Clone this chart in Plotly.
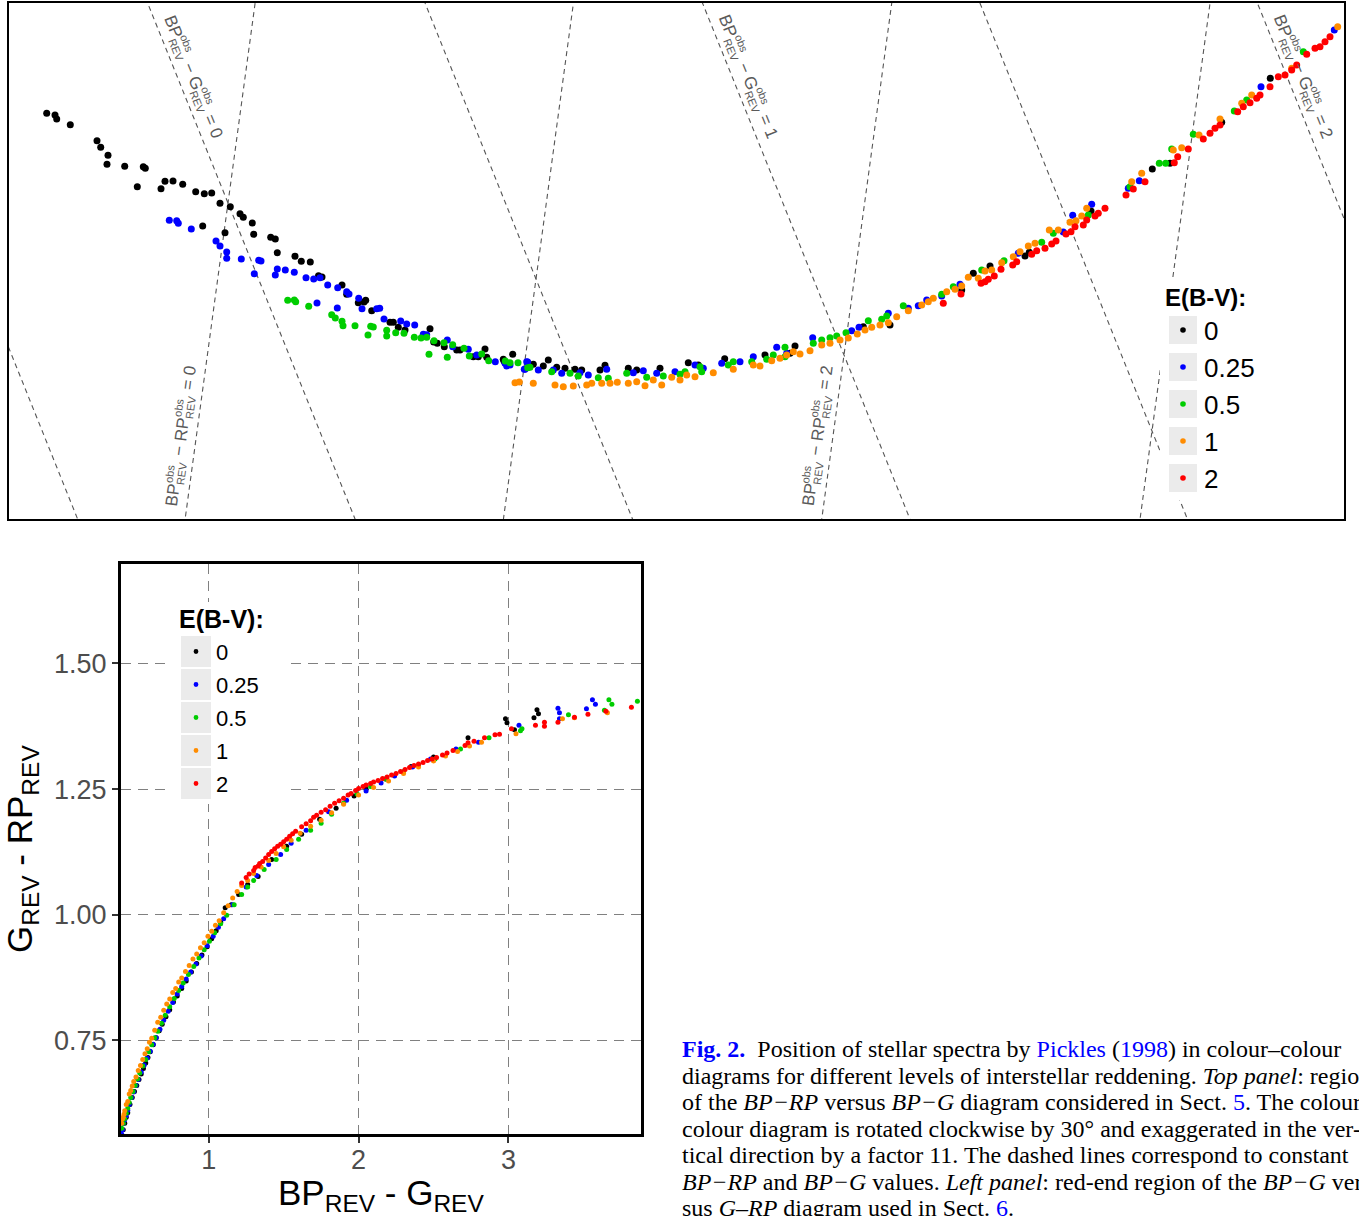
import math
import plotly.graph_objects as go

W, H = 1359, 1216

# ---------------- categories / colours ----------------
EBV_LABELS = ["0", "0.25", "0.5", "1", "2"]
EBV_COLORS = ["#000000", "#0000FF", "#00CD00", "#FF8C00", "#FF0000"]

# ---------------- top panel: rotated (30 deg) and stretched (x11) BP-RP vs BP-G diagram ----------------
# values are (along-locus, across-locus) coordinates in the rotated frame
TOP_E0 = [(46.7,113.3),(55,115),(56.7,119),(70.3,124.7),(97,140.7),(100.7,147.3),(108,155.3),(107,164.3),
          (124.7,166.3),(143.3,166.7),(145.3,168.3),(137.3,186.7),(161,188.7),(165,181.3),(173,181),(182.7,184.3),
          (195.7,191.7),(204.3,193.7),(211.7,193),(220,203.3),(230.3,206.7),(240,213.7),(243.3,217.3),(252.3,223),
          (253.7,234.3),(202.7,226),(225,232.7),(270.7,237.3),(275.3,239),(277.3,252.7),(295,256.3),(301.3,261.3),
          (310.3,262),(318.5,275.7),(322,277),(342,285),(346.7,294.3),(358.3,302.7),(364,302),(365.7,300.3),
          (371.7,310.7),(390,322.3),(393.3,322.3),(398.3,327.3),(405,330),(430,328.7),(433.7,342),(437.3,343.3),
          (444.3,346.7),(456.7,350),(460,350),(473.3,356.7),(478.3,356.7),(485,349),(486.7,357.3),(512.7,354.3),
          (504,361),(503.3,359.3),(533.3,364.3),(543.3,366),(548.3,360),(556.7,367.3),(565,368.3),(575,369.3),
          (581.7,370),(600,370),(605,365.3),(628.3,368.3),(636.7,370),(660,368.3),(688.3,362.7),(698.3,365),
          (724.7,358.7),(765,355),(790,353.3),(795,346),(863.3,326.7),(890,325),(961.7,290),(973.3,273.3),
          (990,266),(1025,256),(1029.3,252.3),(1091,211),(1152.3,169),(1170,163.3),(1221.7,122.3),(1270.3,78.3)]
TOP_E025 = [(169.3,220.3),(176.7,220.7),(178.3,223.3),(191.3,229),(216,241),(220,246),(226.7,252),(226.7,258.3),
            (241.3,259),(258.7,260.3),(261,261),(254.3,273.7),(277.3,269),(275.3,275),(285.3,270),(294.3,272.3),
            (306,277.7),(313.7,279),(320,277.7),(327.7,285),(317,303),(337.7,287.7),(346.7,291.7),(349,294),
            (358.7,298.3),(362,308.7),(337.3,308),(376.7,308.7),(379.7,308.3),(384,319),(400.7,321),(406.7,324),
            (414.7,325),(423.3,334.3),(426.7,334.7),(447.3,340),(452.7,346.7),(468.3,349.3),(476.7,355),
            (495.3,361.7),(506.7,366),(510,365),(524.3,369.3),(527.7,362),(505,363.3),(526.7,361.7),(525,369.3),
            (538.3,370),(553.3,370),(561.7,373.3),(580,372.7),(588.3,375),(606.7,369.3),(633.3,372.7),(643.3,370.7),
            (656.7,373.3),(675,371.7),(695,365),(703.3,368.3),(721.7,363.3),(740,361.7),(753.3,356.7),(776.7,347.3),
            (786.7,353.3),(812.7,337.7),(851.7,330.7),(859,327.3),(888.3,313.3),(908.3,308.3),(918.3,305.7),
            (926.7,300),(941.7,296),(960,284.3),(1018.3,253.3),(1063.3,232),(1072.7,215.3),(1091.7,204.3),
            (1128.3,188.3),(1139.3,180.7),(1261,86.7),(1334.3,30)]
TOP_E05 = [(287.7,300.3),(294.3,300),(295.7,301.7),(308.7,306.3),(331.7,314.7),(335.3,318),(342,321.3),(343,325.7),
           (355,325.7),(370.7,326.3),(373.3,327),(368,335),(386.7,330.3),(386.7,336),(395.7,332.7),(404,333.3),
           (414.3,337.3),(421,338),(426.7,337.3),(434,340.7),(444,342.7),(452.7,344.7),(464,348.3),(469.3,356),
           (481.7,354),(488.7,360.7),(429,354.3),(447.3,357.3),(505.3,361),(510,362.7),(518,362.7),(527.7,367.7),
           (530,367.3),(551.7,371.7),(570,373.3),(578.3,376),(598.3,377.7),(608.3,378.3),(626.7,373.3),(646.7,377.3),
           (663.3,376),(680,374.3),(685,371.7),(700,366.7),(701.7,371.7),(728.3,365),(733.3,361.7),(751.7,361.7),
           (766.7,359.3),(773.3,355),(785,347.3),(785,356.7),(813.3,343.3),(821.7,340),(830,337.7),(836.7,336),
           (846,332.7),(868.3,320.7),(881.7,319.3),(886.7,316),(903.3,305.7),(941.7,294.3),(953.3,286.7),
           (981.7,270),(1004,260.7),(1041.7,242.3),(1053.3,233.3),(1088.3,215),(1130,186.7),(1159.3,163.3),
           (1165.7,163.3),(1171.7,149),(1193.3,134.3),(1234.3,111),(1246.7,100),(1303.3,51.7)]
TOP_E1 = [(515,382.7),(519.3,382),(533.3,383.3),(555,385),(563.3,386.7),(573.3,386),(586.7,385),(591.7,383.3),
          (601.7,383.3),(610,383.3),(617.3,382.3),(628.3,383.3),(636.7,381.7),(645,385.7),(653.3,380),(661.7,385),
          (671.7,377.3),(680,380),(686.7,375),(695,376.7),(713.3,372.7),(733.3,369.3),(753.3,365),(760,366),
          (771.7,360.7),(780,358.3),(786.7,355),(793.3,351.7),(800,354),(810,350.7),(821.7,345),(830,343.3),
          (840,340),(848.3,338),(857.3,334),(865,330),(871.7,327.3),(880,325),(888.3,322.7),(896.7,316.7),
          (908.3,310.7),(921.7,305),(928.3,301.7),(933.3,298.3),(946.7,291.7),(955,289.3),(961.7,286),(968.3,277.3),
          (978.3,278.3),(985,271),(991.7,270),(1001.7,262.7),(1013.3,256.7),(1020,251.7),(1028.3,246),(1035,243.3),
          (1049.3,230),(1058.3,230),(1070,222.3),(1076,220.7),(1081.7,216),(1086.7,208.3),(1131.7,181.7),
          (1141.7,173.3),(1173.3,150),(1181.7,147.7),(1199,135),(1220,119),(1241.7,103.3),(1251.7,95),
          (1291.7,68.3),(1337.7,26.7)]
TOP_E2 = [(943.3,303.3),(961,294),(981,283.3),(985,281.7),(988.3,279.3),(994.3,276),(1001,269.3),(1012.7,265),
          (1016.7,261.7),(1031.7,254.3),(1036.7,250.7),(1045,248.3),(1051.7,244),(1056,241),(1066,234),(1071,231.7),
          (1075,226.7),(1083.3,225),(1086.7,220),(1095,216),(1098.3,213.3),(1105,208.3),(1126,195),(1133.3,189),
          (1145,181.7),(1174.3,162.7),(1177.7,156.7),(1188.3,149),(1203.3,139),(1210,133.3),(1215,128.3),(1220,125),
          (1237.7,111.7),(1243.3,106.7),(1250,102.7),(1256.7,98.3),(1260,95),(1270,86.7),(1278.3,76.7),(1285,75),
          (1291.7,70),(1296.7,65),(1306.7,54.3),(1315,48.3),(1320,46.7),(1325,41.7),(1330,36.7)]
TOP_SERIES = [TOP_E0, TOP_E025, TOP_E05, TOP_E1, TOP_E2]

# rotated frame: position of (BP-G, BP-RP) = ORIGIN + g*VEC_G + r*VEC_R
ORIGIN = (228.0, 203.0)
VEC_G = (140.0, -1032.0)
VEC_R = (238.0, 592.0)
ISO_BPG = [-0.5, 0.0, 0.5, 1.0, 1.5, 2.0]
ISO_BPRP = [0.0, 1.0, 2.0, 3.0]
LABEL_BPG = [0, 1, 2]
LABEL_BPRP = [0, 2]

# ---------------- left panel: BP-G (x) vs G-RP (y) ----------------
LEFT_E0 = [(0.43,0.572),(0.44,0.585),(0.45,0.597),(0.46,0.606),(0.475,0.622),(0.49,0.636),(0.505,0.648),(0.52,0.660),
           (0.535,0.672),(0.55,0.683),(0.565,0.694),(0.58,0.705),(0.595,0.716),(0.61,0.727),(0.63,0.741),(0.65,0.755),
           (0.67,0.769),(0.69,0.782),(0.715,0.797),(0.74,0.811),(0.765,0.826),(0.79,0.838),(0.82,0.853),(0.85,0.868),
           (0.885,0.886),(0.92,0.903),(0.955,0.920),(0.99,0.936),(1.02,0.952),(1.05,0.968),(1.08,0.985),(1.11,1.014),
           (1.15,1.020),(1.20,1.040),(1.26,1.060),(1.33,1.076),(1.42,1.110),(1.52,1.136),(1.62,1.160),(1.74,1.190),
           (1.85,1.212),(1.97,1.236),(2.05,1.250),(2.18,1.270),(2.35,1.295),(2.50,1.314),(2.73,1.352),(2.98,1.390),
           (2.99,1.382),(3.04,1.368),(3.17,1.392),(3.19,1.408),(3.20,1.400)]
LEFT_E025 = [(0.42,0.563),(0.425,0.572),(0.43,0.585),(0.44,0.592),(0.45,0.600),(0.46,0.611),(0.47,0.622),(0.485,0.636),
             (0.50,0.647),(0.515,0.660),(0.53,0.672),(0.55,0.687),(0.57,0.701),(0.59,0.715),(0.61,0.728),(0.63,0.742),
             (0.65,0.755),(0.675,0.772),(0.70,0.790),(0.73,0.808),(0.76,0.825),(0.79,0.842),(0.82,0.857),(0.85,0.872),
             (0.88,0.886),(0.915,0.902),(0.95,0.918),(0.99,0.938),(1.03,0.957),(1.065,0.975),(1.10,0.992),(1.16,1.020),
             (1.25,1.055),(1.32,1.078),(1.40,1.100),(1.48,1.120),(1.55,1.142),(1.65,1.168),(1.80,1.205),(1.92,1.228),
             (2.05,1.246),(2.15,1.262),(2.24,1.276),(2.36,1.294),(2.48,1.310),(2.65,1.330),(2.80,1.343),(3.07,1.377),
             (3.33,1.411),(3.34,1.402),(3.34,1.390),(3.52,1.410),(3.56,1.428),(3.58,1.419)]
LEFT_E05 = [(0.42,0.575),(0.43,0.585),(0.44,0.594),(0.45,0.605),(0.46,0.615),(0.47,0.626),(0.48,0.636),(0.495,0.648),
            (0.51,0.660),(0.525,0.673),(0.54,0.685),(0.56,0.699),(0.58,0.712),(0.60,0.727),(0.62,0.741),(0.64,0.755),
            (0.66,0.768),(0.685,0.784),(0.71,0.800),(0.74,0.817),(0.77,0.833),(0.80,0.849),(0.83,0.864),(0.865,0.881),
            (0.90,0.897),(0.935,0.914),(0.97,0.930),(1.005,0.947),(1.04,0.964),(1.08,0.982),(1.12,0.999),(1.17,1.020),
            (1.22,1.040),(1.26,1.055),(1.30,1.068),(1.37,1.090),(1.45,1.110),(1.52,1.130),(1.60,1.150),(1.68,1.168),
            (1.75,1.182),(1.82,1.200),(1.90,1.222),(1.99,1.240),(2.08,1.255),(2.18,1.270),(2.30,1.285),(2.40,1.298),
            (2.51,1.310),(2.68,1.330),(2.87,1.352),(3.08,1.366),(3.09,1.370),(3.40,1.398),(3.64,1.407),(3.67,1.428),
            (3.69,1.419),(3.86,1.425)]
LEFT_E1 = [(0.42,0.585),(0.425,0.594),(0.43,0.597),(0.435,0.603),(0.44,0.610),(0.45,0.622),(0.46,0.628),(0.47,0.643),
           (0.48,0.650),(0.49,0.659),(0.50,0.668),(0.515,0.677),(0.53,0.690),(0.545,0.700),(0.56,0.712),(0.575,0.723),
           (0.59,0.733),(0.605,0.746),(0.62,0.754),(0.64,0.770),(0.66,0.786),(0.68,0.796),(0.70,0.810),(0.72,0.822),
           (0.74,0.832),(0.76,0.845),(0.78,0.853),(0.80,0.866),(0.82,0.874),(0.845,0.887),(0.87,0.899),(0.895,0.912),
           (0.92,0.922),(0.945,0.934),(0.97,0.944),(0.995,0.957),(1.02,0.967),(1.045,0.979),(1.07,0.988),(1.10,1.004),
           (1.13,1.018),(1.16,1.033),(1.19,1.046),(1.22,1.058),(1.26,1.068),(1.30,1.082),(1.35,1.095),(1.40,1.108),
           (1.45,1.122),(1.50,1.135),(1.55,1.148),(1.61,1.162),(1.68,1.176),(1.75,1.188),(1.82,1.203),(1.90,1.220),
           (2.00,1.238),(2.10,1.253),(2.20,1.266),(2.30,1.281),(2.40,1.294),(2.50,1.306),(2.58,1.316),(2.66,1.325),
           (2.74,1.336),(2.82,1.343),(3.05,1.360),(3.36,1.390),(3.44,1.392),(3.66,1.402)]
LEFT_E2 = [(1.22,1.063),(1.25,1.074),(1.27,1.081),(1.30,1.088),(1.31,1.094),(1.33,1.097),(1.34,1.102),(1.36,1.106),
           (1.38,1.113),(1.40,1.120),(1.42,1.126),(1.44,1.131),(1.46,1.136),(1.48,1.140),(1.50,1.145),(1.52,1.150),
           (1.54,1.156),(1.56,1.161),(1.58,1.166),(1.62,1.175),(1.65,1.181),(1.68,1.187),(1.70,1.194),(1.72,1.198),
           (1.75,1.204),(1.78,1.209),(1.81,1.216),(1.84,1.222),(1.87,1.227),(1.90,1.232),(1.93,1.238),(1.95,1.241),
           (1.98,1.247),(2.00,1.251),(2.03,1.255),(2.05,1.258),(2.08,1.261),(2.10,1.264),(2.13,1.267),(2.16,1.271),
           (2.19,1.274),(2.22,1.278),(2.25,1.281),(2.28,1.285),(2.31,1.289),(2.34,1.293),(2.37,1.297),(2.40,1.300),
           (2.43,1.303),(2.46,1.307),(2.49,1.310),(2.52,1.313),(2.56,1.318),(2.59,1.322),(2.63,1.327),(2.71,1.337),
           (2.73,1.342),(2.77,1.345),(2.84,1.352),(2.91,1.358),(2.94,1.359),(3.02,1.370),(3.18,1.377),(3.24,1.383),
           (3.24,1.375),(3.33,1.383),(3.44,1.393),(3.53,1.399),(3.65,1.405),(3.82,1.413)]
LEFT_SERIES = [LEFT_E0, LEFT_E025, LEFT_E05, LEFT_E1, LEFT_E2]
LEFT_XTICKS = [1, 2, 3]
LEFT_YTICKS = [0.75, 1.00, 1.25, 1.50]
LEFT_YTICKTEXT = ["0.75", "1.00", "1.25", "1.50"]

CAPTION = [
    "<b><span style='color:#0000FF'>Fig. 2.</span></b>  Position of stellar spectra by <span style='color:#0000FF'>Pickles</span> (<span style='color:#0000FF'>1998</span>) in colour–colour",
    "diagrams for different levels of interstellar reddening. <i>Top panel</i>: region",
    "of the <i>BP−RP</i> versus <i>BP−G</i> diagram considered in Sect. <span style='color:#0000FF'>5</span>. The colour–",
    "colour diagram is rotated clockwise by 30° and exaggerated in the ver-",
    "tical direction by a factor 11. The dashed lines correspond to constant",
    "<i>BP−RP</i> and <i>BP−G</i> values. <i>Left panel</i>: red-end region of the <i>BP−G</i> ver-",
    "sus <i>G–RP</i> diagram used in Sect. <span style='color:#0000FF'>6</span>.",
]


def pxx(v):
    return v / W


def pxy(v):
    return 1 - v / H


def rot(g, r):
    return (ORIGIN[0] + g * VEC_G[0] + r * VEC_R[0], ORIGIN[1] + g * VEC_G[1] + r * VEC_R[1])


fig = go.Figure()

LINE_GREY = "#555555"
for g in ISO_BPG:
    a, b = rot(g, -4.0), rot(g, 8.0)
    fig.add_trace(go.Scatter(x=[a[0], b[0]], y=[a[1], b[1]], mode="lines", xaxis="x", yaxis="y",
                             line=dict(color=LINE_GREY, width=1.1, dash="5px,4px"),
                             showlegend=False, hoverinfo="skip"))
for r in ISO_BPRP:
    a, b = rot(-3.0, r), rot(4.0, r)
    fig.add_trace(go.Scatter(x=[a[0], b[0]], y=[a[1], b[1]], mode="lines", xaxis="x", yaxis="y",
                             line=dict(color=LINE_GREY, width=1.1, dash="5px,4px"),
                             showlegend=False, hoverinfo="skip"))

for pts, col, lab in zip(TOP_SERIES, EBV_COLORS, EBV_LABELS):
    fig.add_trace(go.Scatter(x=[p[0] for p in pts], y=[p[1] for p in pts], mode="markers",
                             xaxis="x", yaxis="y", name=lab, showlegend=False,
                             marker=dict(color=col, size=7, line=dict(width=0))))

for pts, col, lab in zip(LEFT_SERIES, EBV_COLORS, EBV_LABELS):
    fig.add_trace(go.Scatter(x=[p[0] for p in pts], y=[p[1] for p in pts], mode="markers",
                             xaxis="x2", yaxis="y2", name=lab, showlegend=False,
                             marker=dict(color=col, size=5, line=dict(width=0))))

annotations = []
shapes = []

# ---- labels of the iso-colour lines, built with stacked super/subscripts ----
CHAR_W = {'B': .667, 'P': .667, 'R': .722, 'E': .667, 'V': .667, 'G': .778, 'o': .556, 'b': .556, 's': .5,
          '−': .584, '=': .584, ' ': .278, '0': .556, '1': .556, '2': .556}
MAIN_SIZE, SMALL_SIZE = 17, 11
LBL_COLOR = "#5a5a5a"


def text_w(t, size):
    return sum(CHAR_W[c] for c in t) * size


def stacked_label(cx, cy, theta, parts):
    # parts: list of strings; "#" means stacked obs/REV block
    th = math.radians(theta)
    d = (math.cos(th), math.sin(th))
    up = (math.sin(th), -math.cos(th))
    widths = []
    for p in parts:
        widths.append(text_w("REV", SMALL_SIZE) + 1 if p == "#" else text_w(p, MAIN_SIZE))
    total = sum(widths)
    s = -total / 2
    for p, w in zip(parts, widths):
        if p == "#":
            items = [("obs", s + text_w("obs", SMALL_SIZE) / 2, 6.5),
                     ("REV", s + text_w("REV", SMALL_SIZE) / 2, -5.5)]
            size = SMALL_SIZE
        else:
            lead = len(p) - len(p.lstrip(" "))
            core = p.strip(" ")
            items = [(core, s + lead * CHAR_W[' '] * MAIN_SIZE + text_w(core, MAIN_SIZE) / 2, 0.0)]
            size = MAIN_SIZE
        for txt, along, perp in items:
            x = cx + d[0] * along + up[0] * perp
            y = cy + d[1] * along + up[1] * perp
            annotations.append(dict(x=x, y=y, xref="x", yref="y", text=txt, showarrow=False, textangle=theta,
                                    xanchor="center", yanchor="middle",
                                    font=dict(family="Liberation Sans, Arial, sans-serif", size=size,
                                              color=LBL_COLOR)))
        s += w


for g in LABEL_BPG:
    r_at = (77 - ORIGIN[1] - g * VEC_G[1]) / VEC_R[1]
    x0, y0 = rot(g, r_at)
    stacked_label(x0 + 16, y0, 68.1, ["BP", "#", " − G", "#", " = %d" % g])
for r in LABEL_BPRP:
    g_at = (436 - ORIGIN[1] - r * VEC_R[1]) / VEC_G[1]
    x0, y0 = rot(g_at, r)
    stacked_label(x0 - 15, y0, -82.3, ["BP", "#", " − RP", "#", " = %d" % r])


def add_legend(bg, title_pos, title_size, box_x, box_tops, box_h, dot_x, dot_r, lab_x, lab_size):
    shapes.append(dict(type="rect", xref="paper", yref="paper", x0=pxx(bg[0]), x1=pxx(bg[2]),
                       y0=pxy(bg[3]), y1=pxy(bg[1]), fillcolor="white", line=dict(width=0), layer="above"))
    annotations.append(dict(x=pxx(title_pos[0]), y=pxy(title_pos[1]), xref="paper", yref="paper",
                            text="<b>E(B-V):</b>", showarrow=False, xanchor="left", yanchor="middle",
                            font=dict(family="Liberation Sans, Arial, sans-serif", size=title_size, color="black")))
    for top, col, lab in zip(box_tops, EBV_COLORS, EBV_LABELS):
        shapes.append(dict(type="rect", xref="paper", yref="paper", x0=pxx(box_x[0]), x1=pxx(box_x[1]),
                           y0=pxy(top + box_h), y1=pxy(top), fillcolor="#EBEBEB", line=dict(width=0), layer="above"))
        cy = top + box_h / 2
        shapes.append(dict(type="circle", xref="paper", yref="paper", x0=pxx(dot_x - dot_r), x1=pxx(dot_x + dot_r),
                           y0=pxy(cy + dot_r), y1=pxy(cy - dot_r), fillcolor=col, line=dict(width=0), layer="above"))
        annotations.append(dict(x=pxx(lab_x), y=pxy(cy + 1), xref="paper", yref="paper", text=lab, showarrow=False,
                                xanchor="left", yanchor="middle",
                                font=dict(family="Liberation Sans, Arial, sans-serif", size=lab_size, color="black")))


add_legend(bg=(1160, 280, 1262, 500), title_pos=(1163, 298), title_size=24,
           box_x=(1169, 1197), box_tops=[316, 353, 390, 427, 464], box_h=28,
           dot_x=1183, dot_r=2.8, lab_x=1202, lab_size=26)
add_legend(bg=(166, 602, 284, 804), title_pos=(177, 619), title_size=25,
           box_x=(181, 211), box_tops=[636, 669, 702, 735, 768], box_h=31,
           dot_x=196, dot_r=2.4, lab_x=214, lab_size=22)

annotations.append(dict(x=pxx(22), y=pxy(849), xref="paper", yref="paper", textangle=-90, showarrow=False,
                        text="G<sub>REV</sub> - RP<sub>REV</sub>", xanchor="center", yanchor="middle",
                        font=dict(family="Liberation Sans, Arial, sans-serif", size=35, color="black")))
annotations.append(dict(x=pxx(381), y=pxy(1195), xref="paper", yref="paper", showarrow=False,
                        text="BP<sub>REV</sub> - G<sub>REV</sub>", xanchor="center", yanchor="middle",
                        font=dict(family="Liberation Sans, Arial, sans-serif", size=35, color="black")))

CAP_Y = [1049, 1076, 1102, 1129, 1155, 1182, 1208]
for line, yy in zip(CAPTION, CAP_Y):
    annotations.append(dict(x=pxx(680), y=pxy(yy), xref="paper", yref="paper", showarrow=False, text=line,
                            xanchor="left", yanchor="middle", align="left",
                            font=dict(family="Liberation Serif, Times New Roman, serif", size=24, color="black")))

fig.update_layout(
    width=W, height=H, margin=dict(l=0, r=0, t=0, b=0),
    paper_bgcolor="white", plot_bgcolor="white", showlegend=False,
    xaxis=dict(domain=[pxx(9), pxx(1344)], range=[9, 1344], anchor="y", showgrid=False, zeroline=False,
               showticklabels=False, ticks="", showline=True, mirror=True, linecolor="black", linewidth=2),
    yaxis=dict(domain=[pxy(519), pxy(3)], range=[519, 3], anchor="x", showgrid=False, zeroline=False,
               showticklabels=False, ticks="", showline=True, mirror=True, linecolor="black", linewidth=2),
    xaxis2=dict(domain=[pxx(121), pxx(641)], range=[0.415, 3.884], anchor="y2",
                tickvals=LEFT_XTICKS, ticktext=[str(v) for v in LEFT_XTICKS],
                showgrid=True, gridcolor="#808080", gridwidth=1.3, griddash="10px,7px", zeroline=False,
                ticks="outside", ticklen=6, tickwidth=1.5, tickcolor="#333333", ticklabelstandoff=-6,
                tickfont=dict(family="Liberation Sans, Arial, sans-serif", size=27, color="#4D4D4D"),
                showline=True, mirror=True, linecolor="black", linewidth=3),
    yaxis2=dict(domain=[pxy(1134), pxy(564)], range=[0.5635, 1.698], anchor="x2",
                tickvals=LEFT_YTICKS, ticktext=LEFT_YTICKTEXT,
                showgrid=True, gridcolor="#808080", gridwidth=1.3, griddash="10px,7px", zeroline=False,
                ticks="outside", ticklen=6, tickwidth=1.5, tickcolor="#333333",
                tickfont=dict(family="Liberation Sans, Arial, sans-serif", size=27, color="#4D4D4D"),
                showline=True, mirror=True, linecolor="black", linewidth=3),
    annotations=annotations, shapes=shapes,
)

fig.write_html("out.html")
